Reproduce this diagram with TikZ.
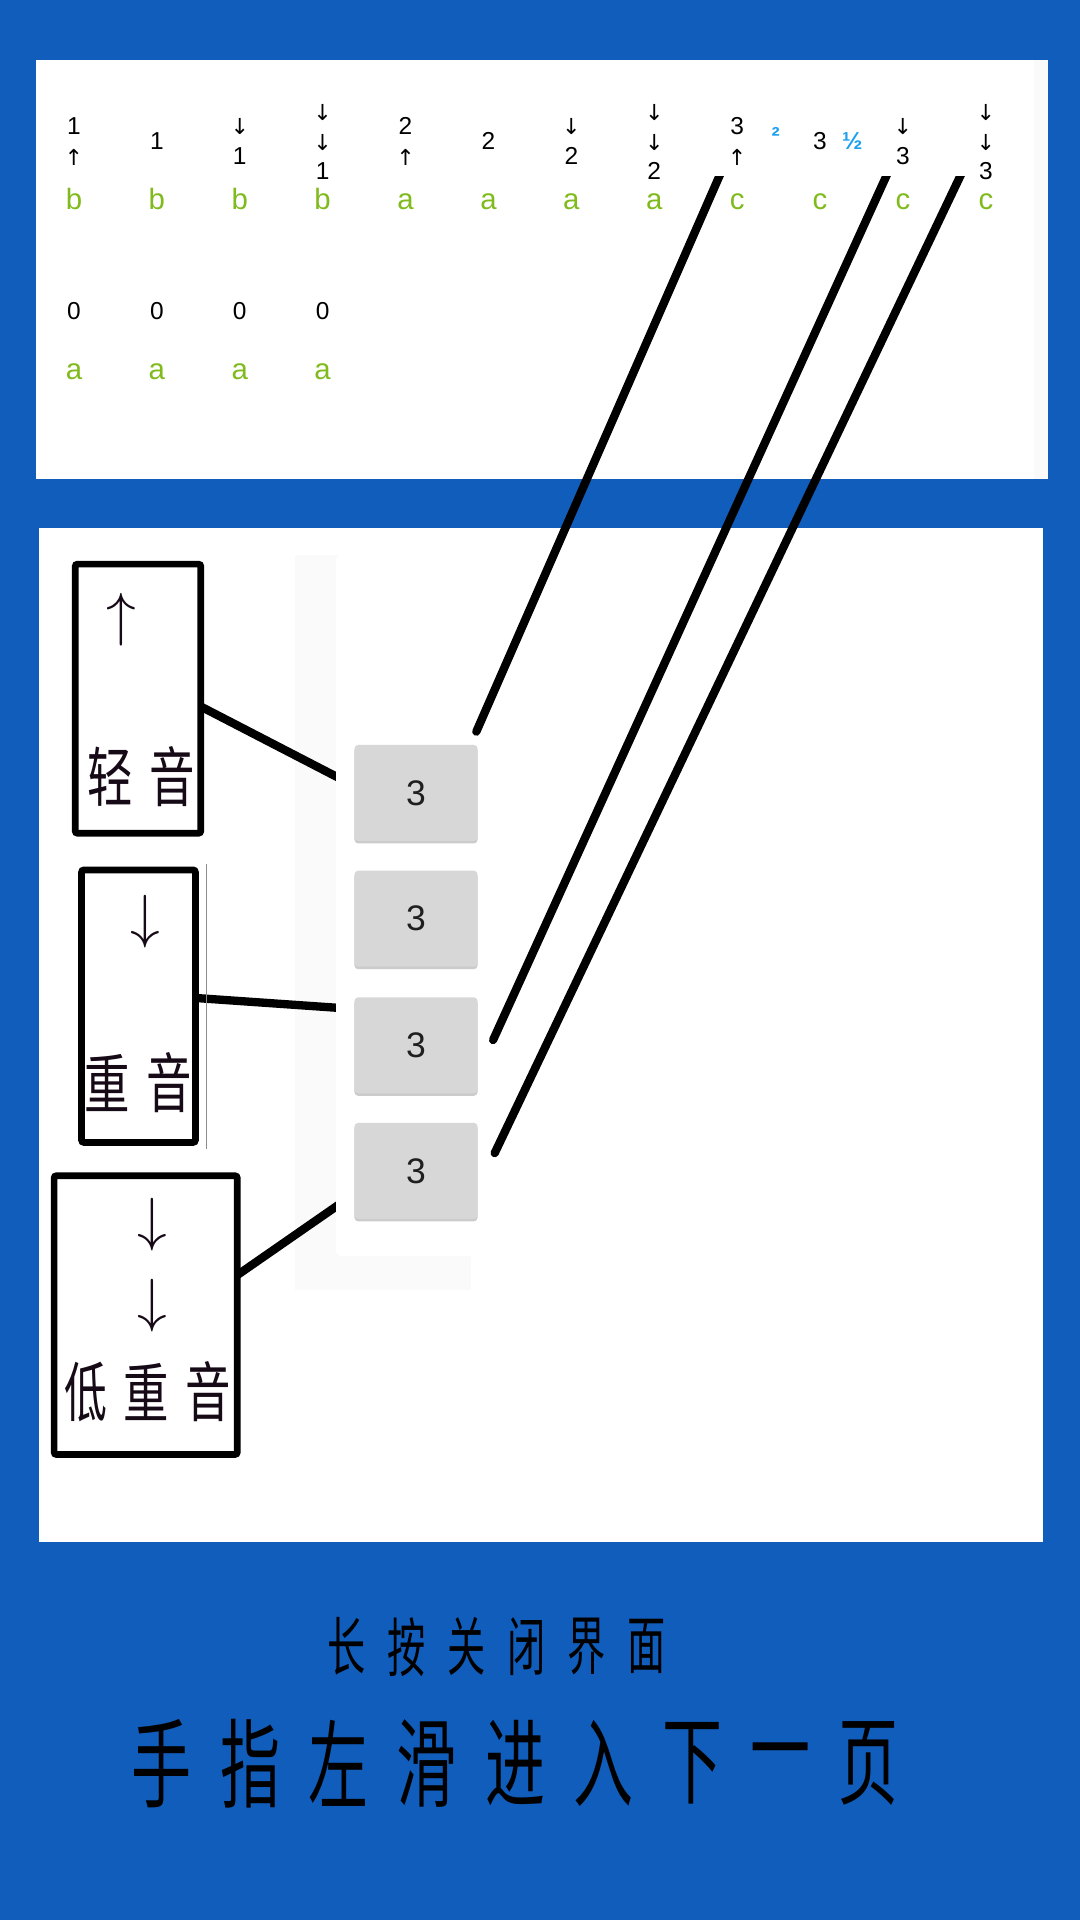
\documentclass[tikz,border=0pt]{standalone}
\usepackage{fontspec}
\setmainfont{Liberation Sans}
\newfontfamily\cjk{Noto Sans CJK SC}
\newfontfamily\arw{DejaVu Sans}
\usetikzlibrary{shadows}
\definecolor{bgblue}{RGB}{17,93,187}
\definecolor{lime}{RGB}{128,187,30}
\definecolor{skyb}{RGB}{30,160,240}
\definecolor{btngray}{RGB}{215,215,215}
\definecolor{inkdark}{RGB}{22,10,22}
\definecolor{faint}{RGB}{250,250,250}
\pgfdeclarelayer{back}
\pgfdeclarelayer{mid}
\pgfsetlayers{back,mid,main}
\tikzset{
  dig/.style={anchor=base, inner sep=0, font=\fontsize{20}{24}\selectfont},
  sarrow/.style={inner sep=0, font=\arw\fontsize{18}{20}\selectfont},
  grn/.style={anchor=base, inner sep=0, text=lime, font=\fontsize{24}{28}\selectfont},
  sup/.style={inner sep=0, text=skyb, font=\bfseries\fontsize{20}{24}\selectfont},
  boxframe/.style={draw=black, line width=5.5pt, rounded corners=2pt, fill=white, inner sep=0, outer sep=0},
  btn/.style={fill=btngray, rounded corners=3pt, minimum width=100.5pt, minimum height=78.4pt, inner sep=0, outer sep=0, text=black!88, font=\fontsize{29}{32}\selectfont, drop shadow={shadow xshift=0pt, shadow yshift=-2pt, fill=black!40, opacity=0.5}},
  conn/.style={line width=6.8pt, draw=black},
  bigarrow/.style={inner sep=0, text=inkdark},
  cjkbox/.style={inner sep=0, text=inkdark, font=\cjk\fontsize{53}{56}\selectfont},
  cjkA/.style={inner sep=0, text=black, font=\cjk\fontsize{52}{54}\selectfont},
  cjkB/.style={inner sep=0, text=black, font=\cjk\fontsize{79}{82}\selectfont},
}
\begin{document}
\begin{tikzpicture}[x=1pt,y=-1pt]
\useasboundingbox (0,0) rectangle (882,1568);
\begin{pgfonlayer}{back}
  \fill[bgblue] (0,0) rectangle (882,1568);
  \fill[white] (29.6,49) rectangle (855.5,391);
  \fill[faint] (844.5,49) rectangle (855.5,391);
  \fill[white] (31.8,431) rectangle (852,1259);
  \fill[faint] (240.8,453) rectangle (385,1053.5);
\end{pgfonlayer}

% top panel
\foreach \g/\d/\l in {0/1/b,1/2/a,2/3/c}{
  \pgfmathsetmacro{\xA}{60.4+270.8*\g}
  \pgfmathsetmacro{\xB}{\xA+67.7}
  \pgfmathsetmacro{\xC}{\xA+135.4}
  \pgfmathsetmacro{\xD}{\xA+203.1}
  \node[dig] (n\g-a) at (\xA,109.7) {\d};
  \node[sarrow] (r\g-a) at (\xA,128.3) {↑};
  \node[dig] (n\g-b) at (\xB,122.5) {\d};
  \node[sarrow] (r\g-c) at (\xC,103.4) {↓};
  \node[dig] (n\g-c) at (\xC,134.7) {\d};
  \node[sarrow] (r\g-d) at (\xD,91.5) {↓};
  \node[sarrow] (s\g-d) at (\xD,116) {↓};
  \node[dig] (n\g-d) at (\xD,146.5) {\d};
  \foreach \xx/\k in {\xA/a,\xB/b,\xC/c,\xD/d}
    \node[grn] (g\g-\k) at (\xx,171.5) {\l};
}
\node[sup] (supa) at (633.5,111) {²};
\node[sup] (supb) at (696,115) {½};
\foreach \i/\xx in {1/60.4,2/128.1,3/195.8,4/263.5}{
  \node[dig] (z\i) at (\xx,261) {0};
  \node[grn] (y\i) at (\xx,310) {a};
}

% card and buttons
\node[fill=white, rounded corners=5pt, minimum width=119.6pt, minimum height=573pt, inner sep=0] (card) at (334.2,739.5) {};
\node[btn] (b1) at (339.75,647.6) {3};
\node[btn] (b2) at (339.75,750.3) {3};
\node[btn] (b3) at (339.75,853.7) {3};
\node[btn] (b4) at (339.75,956.2) {3};

% label boxes
\node[boxframe, minimum width=102.6pt, minimum height=219.8pt] (k1) at (112.7,570.6) {};
\node[bigarrow] (a1) at (99.4,506) {\scalebox{4.85}{$\uparrow$}};
\node[cjkbox] (q1) at (90.4,634) {\scalebox{0.7}[1]{轻}};
\node[cjkbox] (q2) at (140.8,634) {\scalebox{0.7}[1]{音}};

\node[boxframe, minimum width=93pt, minimum height=222.6pt] (k2) at (113.1,821.7) {};
\node[bigarrow] (a2) at (118.3,752.7) {\scalebox{4.85}{$\downarrow$}};
\node[cjkbox] (w1) at (87.5,884.5) {\scalebox{0.7}[1]{重}};
\node[cjkbox] (w2) at (138.5,884.5) {\scalebox{0.7}[1]{音}};
\draw[black!45, line width=0.8pt] (168.5,706) -- (168.5,938);

\node[boxframe, minimum width=149.6pt, minimum height=227.7pt] (k3) at (119,1074) {};
\node[bigarrow] (a3) at (124.8,999.8) {\scalebox{4.85}{$\downarrow$}};
\node[bigarrow] (a4) at (124.8,1066.5) {\scalebox{4.85}{$\downarrow$}};
\node[cjkbox] (e1) at (70.1,1136.5) {\scalebox{0.66}[1]{低}};
\node[cjkbox] (e2) at (119.7,1136.5) {\scalebox{0.7}[1]{重}};
\node[cjkbox] (e3) at (170.4,1136.5) {\scalebox{0.7}[1]{音}};

% connectors from boxes to buttons (under the card)
\begin{pgfonlayer}{mid}
  \draw[conn] ([yshift=-6.4pt]k1.east) -- ([yshift=5.7pt]b1.west);
  \draw[conn] ([yshift=6.7pt]k2.east) -- ([yshift=29.7pt]b3.west);
  \draw[conn] ([yshift=32.7pt]k3.east) -- ([yshift=-18.7pt]b4.west);
\end{pgfonlayer}

% long connectors from the score to the buttons
\coordinate (s1) at (589.6,139);
\coordinate (s2) at (726,139);
\coordinate (s3) at (786.5,139);
\begin{scope}
  \clip (0,144) rectangle (882,1568);
  \draw[conn, line cap=round] (s1) -- ([xshift=-1pt,yshift=10.9pt]b1.north east);
  \draw[conn, line cap=round] (s2) -- ([xshift=12.7pt,yshift=4.4pt]b3.east);
  \draw[conn, line cap=round] (s3) -- ([xshift=14pt,yshift=14.5pt]b4.east);
\end{scope}

% bottom texts
\foreach \c [count=\i] in {长,按,关,闭,界,面}
  \node[cjkA] (ta\i) at ({282.9+49*(\i-1)},1344.8) {\scalebox{0.6}[1]{\c}};
\foreach \c [count=\i] in {手,指,左,滑,进,入,下,一,页}
  \node[cjkB] (tb\i) at ({132+72.2*(\i-1)},1440.2) {\scalebox{0.62}[1]{\c}};
\end{tikzpicture}
\end{document}
